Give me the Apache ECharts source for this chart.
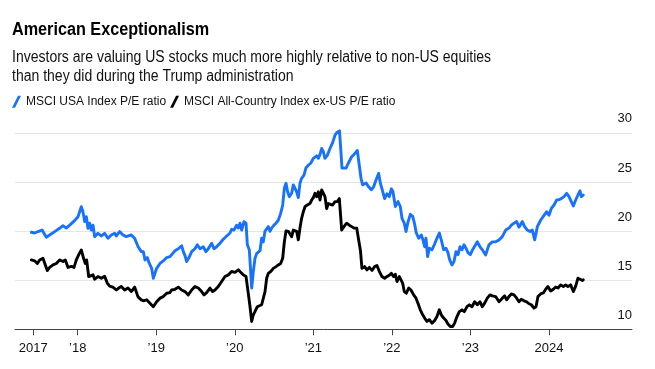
<!DOCTYPE html>
<html>
<head>
<meta charset="utf-8">
<script src="https://cdn.jsdelivr.net/npm/echarts@6/dist/echarts.min.js"></script>
<style>
  html, body { margin: 0; padding: 0; background: #ffffff; }
  #chart { width: 655px; height: 369px; }
</style>
</head>
<body>
<div id="chart"></div>
<script>
// ---- Data (x values are fractional years) ----
const seriesNames = ['MSCI USA Index P/E ratio', 'MSCI All-Country Index ex-US P/E ratio'];

const usYears = [2017.410, 2017.452, 2017.495, 2017.546, 2017.601, 2017.643, 2017.707, 2017.770, 2017.813, 2017.855, 2017.898, 2017.961, 2018.004, 2018.046, 2018.067, 2018.089, 2018.110, 2018.131, 2018.152, 2018.174, 2018.195, 2018.216, 2018.258, 2018.301, 2018.343, 2018.386, 2018.428, 2018.471, 2018.492, 2018.534, 2018.577, 2018.619, 2018.683, 2018.725, 2018.768, 2018.810,
  2018.836, 2018.857, 2018.886, 2018.912, 2018.942, 2018.963, 2018.984, 2019.005, 2019.048, 2019.090, 2019.133, 2019.175, 2019.196, 2019.239, 2019.281, 2019.324, 2019.345, 2019.366, 2019.387, 2019.417, 2019.451, 2019.493, 2019.523, 2019.557, 2019.599, 2019.633, 2019.663, 2019.706, 2019.735, 2019.769, 2019.812, 2019.854, 2019.897, 2019.939, 2019.960, 2019.990, 2020.024, 2020.045, 2020.066, 2020.088, 2020.117, 2020.143, 2020.160, 2020.185,
  2020.215, 2020.236, 2020.257, 2020.278, 2020.300, 2020.321, 2020.342, 2020.363, 2020.385, 2020.406, 2020.427, 2020.448, 2020.469, 2020.499, 2020.525, 2020.554, 2020.584, 2020.610, 2020.631, 2020.652, 2020.673, 2020.694, 2020.724, 2020.745, 2020.767, 2020.788, 2020.809, 2020.830, 2020.851, 2020.881, 2020.907, 2020.936, 2020.966, 2021.000, 2021.025, 2021.042, 2021.064, 2021.085, 2021.106, 2021.127, 2021.148, 2021.178, 2021.212, 2021.246, 2021.276, 2021.297, 2021.318, 2021.333, 2021.352, 2021.365, 2021.390, 2021.416, 2021.445, 2021.467, 2021.488, 2021.518, 2021.543, 2021.560, 2021.585, 2021.607, 2021.628,
  2021.670, 2021.704, 2021.738, 2021.768, 2021.798, 2021.832, 2021.853, 2021.874, 2021.908, 2021.938, 2021.967, 2021.993, 2022.014, 2022.044, 2022.078, 2022.107, 2022.129, 2022.158, 2022.180, 2022.205, 2022.235, 2022.265, 2022.290, 2022.311, 2022.341, 2022.375, 2022.396, 2022.417, 2022.434, 2022.455, 2022.477, 2022.511, 2022.540, 2022.574, 2022.604, 2022.629, 2022.659, 2022.689, 2022.714, 2022.736, 2022.765, 2022.791, 2022.816, 2022.842, 2022.867, 2022.893, 2022.918, 2022.944, 2022.969, 2022.999, 2023.028,
  2023.045, 2023.088, 2023.122, 2023.151, 2023.194, 2023.236, 2023.279, 2023.321, 2023.364, 2023.406, 2023.449, 2023.491, 2023.521, 2023.555, 2023.589, 2023.618, 2023.661, 2023.690, 2023.724, 2023.758, 2023.788, 2023.818, 2023.852, 2023.894, 2023.937, 2023.971, 2024.000, 2024.030, 2024.064, 2024.098, 2024.127, 2024.157, 2024.191, 2024.225, 2024.255, 2024.284, 2024.310, 2024.340, 2024.369, 2024.395, 2024.412, 2024.437];

const usPE = [19.88, 19.8, 19.95, 20.1, 19.37, 19.6, 19.94, 20.28, 20.55, 20.3, 20.6, 21.06, 21.46, 22.48, 21.97, 20.96, 21.46, 20.28, 20.8, 20.1, 20.6, 19.43, 19.77, 19.5, 19.77, 19.27, 19.6, 19.77, 19.5, 19.94, 19.6, 19.43, 19.6, 19.27, 18.42, 17.91,
  17.9, 17.06, 17.3, 16.7, 16.2, 15.2, 15.7, 16.2, 16.7, 16.96, 17.3, 17.4, 17.6, 18.0, 18.2, 18.5, 17.9, 17.5, 16.9, 17.3, 17.9, 18.2, 18.6, 18.2, 18.4, 17.9, 18.2, 18.76, 18.2, 18.4, 18.76, 19.17, 19.5, 19.8, 20.18, 20.1, 20.6, 20.3, 20.8, 20.1, 20.96, 20.8, 18.6, 18.1,
  14.2, 15.9, 17.2, 17.7, 17.9, 18.0, 19.27, 18.9, 20.0, 19.8, 20.45, 19.97, 20.3, 20.6, 20.8, 21.1, 21.8, 22.65, 24.35, 24.86, 24.0, 23.5, 23.85, 24.7, 24.8, 24.0, 23.4, 24.86, 25.37, 25.7, 26.45, 26.7, 26.9, 27.4, 27.2, 27.66, 27.4, 27.8, 28.4, 28.1, 27.4, 27.7, 28.4, 29.0, 29.77, 30.0, 30.05, 30.2, 28.0, 26.4, 26.5, 26.4, 26.9, 26.7, 27.56, 27.8, 27.7, 28.2, 28.3, 25.37, 24.7,
  24.9, 24.5, 24.2, 24.5, 25.2, 25.87, 24.9, 24.3, 23.3, 23.8, 23.5, 24.3, 24.0, 22.5, 23.0, 22.5, 21.3, 20.8, 19.95, 20.9, 21.7, 21.5, 20.7, 19.8, 19.27, 19.6, 19.1, 18.4, 19.27, 17.4, 18.25, 18.1, 18.6, 19.27, 19.8, 19.1, 18.1, 18.25, 17.8, 17.06, 16.55, 16.9, 17.9, 17.6, 18.4, 18.1, 18.6, 18.25, 17.8, 17.6, 18.1,
  18.25, 18.9, 18.4, 18.1, 17.57, 18.6, 18.9, 18.9, 19.1, 19.43, 20.1, 20.3, 20.6, 20.8, 20.96, 20.4, 20.96, 20.45, 20.1, 19.95, 20.1, 19.1, 20.45, 21.1, 21.6, 21.97, 21.6, 22.3, 22.65, 23.16, 23.2, 23.3, 23.5, 23.84, 23.5, 23.0, 22.55, 23.16, 23.67, 24.1, 23.5, 23.67];

const exYears = [2017.410, 2017.452, 2017.486, 2017.516, 2017.558, 2017.588, 2017.613, 2017.643, 2017.686, 2017.728, 2017.770, 2017.813, 2017.843, 2017.877, 2017.919, 2017.953, 2017.983, 2018.012, 2018.046, 2018.076, 2018.097, 2018.114, 2018.140, 2018.165, 2018.195, 2018.216, 2018.258, 2018.301, 2018.343, 2018.377, 2018.407, 2018.449, 2018.492, 2018.522, 2018.555, 2018.598, 2018.640, 2018.683, 2018.725, 2018.768, 2018.810,
  2018.836, 2018.878, 2018.920, 2018.963, 2019.005, 2019.048, 2019.090, 2019.133, 2019.175, 2019.196, 2019.239, 2019.281, 2019.324, 2019.366, 2019.408, 2019.451, 2019.493, 2019.536, 2019.578, 2019.608, 2019.642, 2019.684, 2019.718, 2019.748, 2019.790, 2019.833, 2019.875, 2019.918, 2019.960, 2020.003, 2020.045, 2020.075, 2020.109, 2020.143, 2020.172, 2020.194, 2020.215,
  2020.236, 2020.257, 2020.287, 2020.312, 2020.342, 2020.363, 2020.385, 2020.406, 2020.427, 2020.457, 2020.491, 2020.525, 2020.554, 2020.584, 2020.610, 2020.631, 2020.652, 2020.682, 2020.703, 2020.724, 2020.745, 2020.767, 2020.788, 2020.809, 2020.830, 2020.851, 2020.873, 2020.894, 2020.923, 2020.957, 2020.979, 2021.000, 2021.021, 2021.042, 2021.064, 2021.085, 2021.106, 2021.127, 2021.148, 2021.170, 2021.191, 2021.212, 2021.246, 2021.276, 2021.305, 2021.331, 2021.348, 2021.361, 2021.390, 2021.424, 2021.458, 2021.488, 2021.518, 2021.552, 2021.573, 2021.600, 2021.619,
  2021.653, 2021.683, 2021.713, 2021.747, 2021.781, 2021.810, 2021.840, 2021.874, 2021.908, 2021.938, 2021.967, 2021.993, 2022.023, 2022.044, 2022.065, 2022.095, 2022.120, 2022.137, 2022.158, 2022.184, 2022.214, 2022.243, 2022.277, 2022.307, 2022.332, 2022.362, 2022.392, 2022.417, 2022.447, 2022.477, 2022.511, 2022.545, 2022.574, 2022.604, 2022.629, 2022.659, 2022.689, 2022.714, 2022.744, 2022.774, 2022.799, 2022.829, 2022.859, 2022.893, 2022.922, 2022.956, 2022.986, 2023.020,
  2023.054, 2023.088, 2023.122, 2023.151, 2023.181, 2023.215, 2023.249, 2023.279, 2023.321, 2023.364, 2023.406, 2023.436, 2023.461, 2023.491, 2023.521, 2023.555, 2023.589, 2023.618, 2023.648, 2023.682, 2023.716, 2023.746, 2023.775, 2023.809, 2023.835, 2023.860, 2023.894, 2023.928, 2023.958, 2023.987, 2024.021, 2024.055, 2024.085, 2024.115, 2024.149, 2024.183, 2024.212, 2024.242, 2024.276, 2024.310, 2024.340, 2024.369, 2024.395, 2024.425, 2024.437];

const exPE = [17.06, 16.97, 16.7, 17.06, 17.23, 16.55, 15.98, 16.3, 16.55, 16.7, 17.06, 16.9, 17.06, 16.3, 16.4, 16.3, 17.06, 17.57, 18.08, 17.2, 16.7, 17.06, 15.37, 15.2, 15.54, 15.1, 15.37, 15.2, 15.4, 14.7, 14.4, 14.29, 14.0, 14.2, 14.36, 14.0, 14.2, 13.84, 14.3, 13.3, 13.0,
  12.9, 13.0, 12.66, 12.3, 12.8, 13.17, 13.33, 13.67, 13.74, 14.0, 14.07, 14.29, 14.0, 13.84, 13.5, 14.0, 14.35, 14.2, 13.84, 13.5, 13.74, 14.2, 13.84, 14.0, 14.35, 14.86, 15.37, 15.54, 15.88, 15.8, 16.05, 15.8, 15.54, 15.37, 13.67, 12.3, 10.8,
  11.47, 11.8, 12.3, 12.2, 12.5, 12.3, 13.84, 15.2, 15.7, 15.88, 16.2, 16.38, 16.55, 16.7, 17.23, 18.9, 20.0, 19.97, 20.1, 19.43, 20.1, 19.97, 19.97, 19.1, 20.3, 21.3, 21.97, 22.48, 22.65, 22.8, 23.16, 23.4, 23.84, 23.5, 24.0, 23.16, 24.18, 24.35, 23.5, 22.3, 22.8, 22.65, 22.65, 23.0, 23.0, 23.3, 21.5, 20.1, 20.45, 20.8, 20.6, 20.45, 20.3, 20.3, 20.1, 18.0, 16.2,
  16.38, 16.05, 16.3, 16.0, 16.38, 16.5, 15.9, 15.37, 15.2, 15.37, 15.5, 15.7, 15.37, 15.6, 14.86, 15.37, 15.2, 14.7, 13.84, 13.67, 14.2, 14.0, 13.5, 13.17, 12.66, 11.98, 11.47, 11.14, 10.8, 10.97, 10.63, 10.9, 11.3, 11.98, 11.47, 11.14, 10.9, 10.53, 10.29, 10.29, 10.63, 11.3, 11.8, 11.98, 11.8, 12.3, 12.49, 12.3,
  12.8, 12.5, 12.8, 12.3, 12.66, 13.17, 13.5, 13.4, 13.33, 12.8, 13.17, 13.4, 13.0, 13.33, 13.6, 13.5, 13.17, 12.8, 13.05, 12.9, 12.8, 12.6, 12.5, 12.15, 12.3, 13.33, 13.6, 13.7, 14.08, 14.35, 13.9, 14.08, 14.3, 14.2, 14.52, 14.35, 14.52, 14.35, 14.52, 13.84, 14.4, 15.2, 15.1, 14.97, 15.03];

const xTickValues = [2017.435, 2018, 2019, 2020, 2021, 2022, 2023, 2024];
const xTickLabels = ['2017', '\u201918', '\u201919', '\u201920', '\u201921', '\u201922', '\u201923', '2024'];
const yMin = 10, yMax = 30, yStep = 5;

const titleText = 'American Exceptionalism';
const subtitleText = 'Investors are valuing US stocks much more highly relative to non-US equities\nthan they did during the Trump administration';

// ---- Chart ----
const FONT = '"Liberation Sans", Arial, Helvetica, sans-serif';
const BLUE = '#1672ff';
const BLACK = '#000000';

const chart = echarts.init(document.getElementById('chart'), null, { renderer: 'canvas' });

function pairs(xs, ys) {
  const n = Math.min(xs.length, ys.length);
  const out = [];
  for (let i = 0; i < n; i++) out.push([xs[i], ys[i]]);
  return out;
}

const option = {
  animation: false,
  backgroundColor: '#ffffff',
  textStyle: { fontFamily: FONT },
  graphic: [
    {
      type: 'text', x: 12, y: 30.3, scaleX: 0.9, scaleY: 1,
      style: {
        text: titleText, fontSize: 18, fontWeight: 'bold', fontFamily: FONT,
        fill: '#000000', align: 'left', verticalAlign: 'middle',
        textAlign: 'left', textVerticalAlign: 'middle'
      }
    },
    {
      type: 'text', x: 12, y: 48, scaleX: 0.876, scaleY: 1,
      style: {
        text: subtitleText, fontSize: 16, lineHeight: 19, fontFamily: FONT,
        fill: '#111111', align: 'left', verticalAlign: 'top',
        textAlign: 'left', textVerticalAlign: 'top'
      }
    }
  ],
  legend: {
    left: 12, top: 95.8, padding: 0,
    itemWidth: 9, itemHeight: 12, itemGap: 4,
    icon: 'path://M0,12L3,12L9,0L6,0Z',
    textStyle: { fontSize: 12, color: '#111111', fontFamily: FONT, lineHeight: 12 },
    data: seriesNames,
    selectedMode: false
  },
  grid: {
    left: 15, right: 23, top: 132.8, bottom: 39.7,
    containLabel: false, outerBoundsMode: 'none'
  },
  xAxis: {
    type: 'value',
    min: 2017.202, max: 2025.057,
    axisLine: { show: true, lineStyle: { color: '#444444', width: 1 } },
    axisTick: { show: true, length: 6, inside: false, customValues: xTickValues, lineStyle: { color: '#444444', width: 1 } },
    axisLabel: {
      customValues: xTickValues,
      margin: 13, fontSize: 13, color: '#111111', fontFamily: FONT,
      formatter: function (v) {
        for (let i = 0; i < xTickValues.length; i++) {
          if (Math.abs(xTickValues[i] - v) < 1e-6) return xTickLabels[i];
        }
        return '';
      }
    },
    splitLine: { show: false }
  },
  yAxis: {
    type: 'value', position: 'right',
    min: yMin, max: yMax, interval: yStep,
    axisLine: { show: false },
    axisTick: { show: false },
    axisLabel: {
      inside: true, margin: 0, fontSize: 13, color: '#111111', fontFamily: FONT,
      verticalAlign: 'bottom', lineHeight: 14, padding: [0, 0, 7, 0]
    },
    splitLine: { show: true, lineStyle: { color: '#e6e6e6', width: 1 } }
  },
  series: [
    {
      name: seriesNames[0], type: 'line', data: pairs(usYears, usPE),
      showSymbol: false, symbol: 'none', clip: false, z: 3,
      lineStyle: { color: BLUE, width: 2.9, join: 'round', cap: 'round' },
      itemStyle: { color: BLUE }
    },
    {
      name: seriesNames[1], type: 'line', data: pairs(exYears, exPE),
      showSymbol: false, symbol: 'none', clip: false, z: 4,
      lineStyle: { color: BLACK, width: 2.9, join: 'round', cap: 'round' },
      itemStyle: { color: BLACK }
    }
  ]
};

chart.setOption(option);
</script>
</body>
</html>
